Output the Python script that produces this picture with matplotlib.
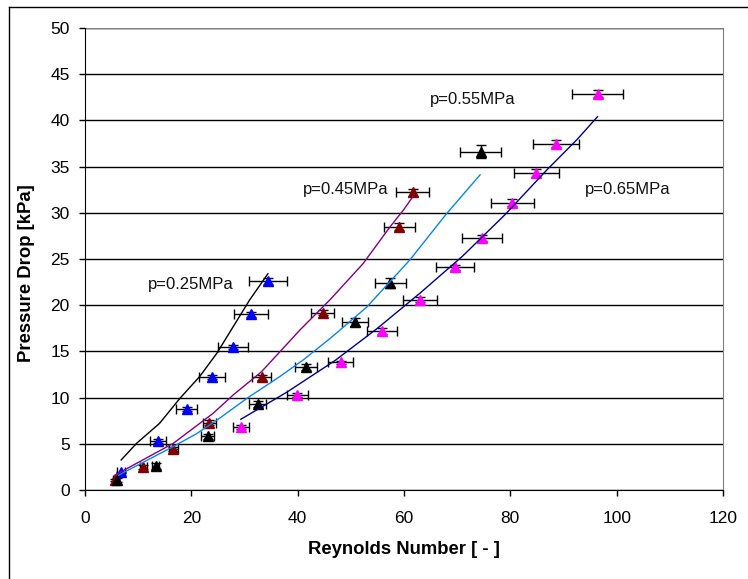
import matplotlib
matplotlib.use('Agg')
import matplotlib.pyplot as plt
from matplotlib.lines import Line2D

plt.rcParams['font.family'] = ['Liberation Sans', 'DejaVu Sans']

# p = 0.25 MPa (blue)
re_025 = [6.8, 13.8, 19.1, 23.9, 27.8, 31.3, 34.4]
dp_025 = [1.9, 5.3, 8.8, 12.2, 15.5, 19.0, 22.6]
re_err_025 = [0.7, 1.5, 2.0, 2.5, 2.8, 3.2, 3.5]
dp_err_025 = [0.1, 0.2, 0.2, 0.2, 0.2, 0.3, 0.3]

# p = 0.45 MPa (dark red)
re_045 = [5.6, 11.0, 16.6, 23.4, 33.2, 44.7, 59.1, 61.6]
dp_045 = [1.1, 2.5, 4.4, 7.3, 12.2, 19.2, 28.5, 32.2]
re_err_045 = [0.3, 0.6, 0.8, 1.2, 1.7, 2.2, 2.9, 3.1]
dp_err_045 = [0.1, 0.2, 0.2, 0.3, 0.3, 0.3, 0.4, 0.4]

# p = 0.55 MPa (black)
re_055 = [6.0, 13.3, 23.1, 32.5, 41.6, 50.8, 57.4, 74.4]
dp_055 = [1.1, 2.6, 5.8, 9.3, 13.3, 18.2, 22.4, 36.6]
re_err_055 = [0.3, 0.7, 1.2, 1.6, 2.1, 2.5, 2.9, 3.8]
dp_err_055 = [0.2, 0.3, 0.3, 0.3, 0.3, 0.4, 0.5, 0.7]

# p = 0.65 MPa (magenta)
re_065 = [29.3, 39.9, 48.1, 55.9, 63.0, 69.6, 74.7, 80.4, 84.9, 88.6, 96.4]
dp_065 = [6.8, 10.3, 13.8, 17.2, 20.6, 24.1, 27.3, 31.1, 34.3, 37.5, 42.9]
re_err_065 = [1.5, 2.0, 2.4, 2.8, 3.2, 3.5, 3.7, 4.0, 4.2, 4.4, 4.8]
dp_err_065 = [0.2, 0.2, 0.2, 0.3, 0.3, 0.3, 0.3, 0.4, 0.4, 0.4, 0.4]

# model curves
fit_re_025 = [6.8, 9.7, 14.0, 17.9, 21.6, 24.8, 27.9, 31.0, 34.4]
fit_dp_025 = [3.25, 5.05, 7.2, 9.95, 12.3, 14.8, 17.7, 20.6, 23.4]
fit_re_045 = [5.6, 16.6, 24.1, 27.9, 33.2, 40.4, 46.1, 52.3, 57.4, 59.9, 61.6]
fit_dp_045 = [1.6, 5.05, 8.3, 10.3, 12.8, 17.3, 20.6, 24.5, 28.5, 30.3, 31.7]
fit_re_055 = [6.3, 16.6, 21.0, 25.4, 30.4, 36.7, 41.1, 46.1, 53.0, 61.1, 68.0, 74.3]
fit_dp_055 = [1.6, 4.7, 6.1, 7.8, 9.9, 12.3, 14.1, 16.4, 19.8, 24.9, 29.9, 34.1]
fit_re_065 = [29.3, 38.0, 47.0, 55.0, 63.0, 71.0, 79.0, 86.8, 92.5, 96.4]
fit_dp_065 = [7.65, 10.6, 14.0, 17.5, 21.3, 25.3, 29.8, 34.6, 37.9, 40.4]

labels = ['p=0.25MPa', 'p=0.45MPa', 'p=0.55MPa', 'p=0.65MPa']
label_re = [11.8, 40.9, 64.9, 94.0]
label_dp = [22.2, 32.5, 42.3, 32.5]

fig = plt.figure(figsize=(7.48, 5.79), dpi=100)
ax = fig.add_axes([85 / 748, 89 / 579, 638 / 748, 462 / 579])

series = [
    (re_025, dp_025, re_err_025, dp_err_025, '#0000FF'),
    (re_045, dp_045, re_err_045, dp_err_045, '#800000'),
    (re_055, dp_055, re_err_055, dp_err_055, '#000000'),
    (re_065, dp_065, re_err_065, dp_err_065, '#FF00FF'),
]
for re, dp, xe, ye, c in series:
    ax.errorbar(re, dp, xerr=xe, yerr=ye, fmt='^', color=c, ms=7.5,
                mec=c, ecolor='black', elinewidth=1, capsize=3.5,
                capthick=1, zorder=3)

ax.plot(fit_re_025, fit_dp_025, color='black', lw=1, zorder=4)
ax.plot(fit_re_045, fit_dp_045, color='#800080', lw=1, zorder=4)
ax.plot(fit_re_055, fit_dp_055, color='#0A84E6', lw=1, zorder=4)
ax.plot(fit_re_065, fit_dp_065, color='#000080', lw=1, zorder=4)

for t, x, y in zip(labels, label_re, label_dp):
    ax.text(x, y, t, fontsize=12, ha='left', va='center', color='#111111')

ax.set_xlim(0, 120)
ax.set_ylim(0, 50)
ax.set_xticks(range(0, 121, 20))
ax.set_yticks(range(0, 51, 5))
ax.yaxis.grid(True, color='black', lw=1)
ax.set_axisbelow(True)
ax.tick_params(axis='both', labelsize=12.5, length=4, width=1,
               direction='out', color='black')
ax.tick_params(axis='x', pad=11)
ax.tick_params(axis='y', pad=7)
for s in ['top', 'right']:
    ax.spines[s].set_color('#808080')
for s in ['left', 'bottom']:
    ax.spines[s].set_color('black')
ax.spines['top'].set_visible(False)
ax.axhline(50, color='#808080', lw=1, zorder=2.5)

ax.set_xlabel('Reynolds Number [ - ]', fontsize=13.3, fontweight='bold')
ax.set_ylabel('Pressure Drop [kPa]', fontsize=13.3, fontweight='bold')
ax.xaxis.set_label_coords(0.5, -(541 - 490) / 462)
ax.yaxis.set_label_coords(-(85 - 35) / 638, 0.47)

# outer chart frame (left and top edges visible)
fig.add_artist(Line2D([9 / 748, 9 / 748], [0, 1 - 7 / 579], color='black', lw=1))
fig.add_artist(Line2D([9 / 748, 1], [1 - 7 / 579, 1 - 7 / 579], color='black', lw=1))

fig.savefig('out.png', dpi=100)
